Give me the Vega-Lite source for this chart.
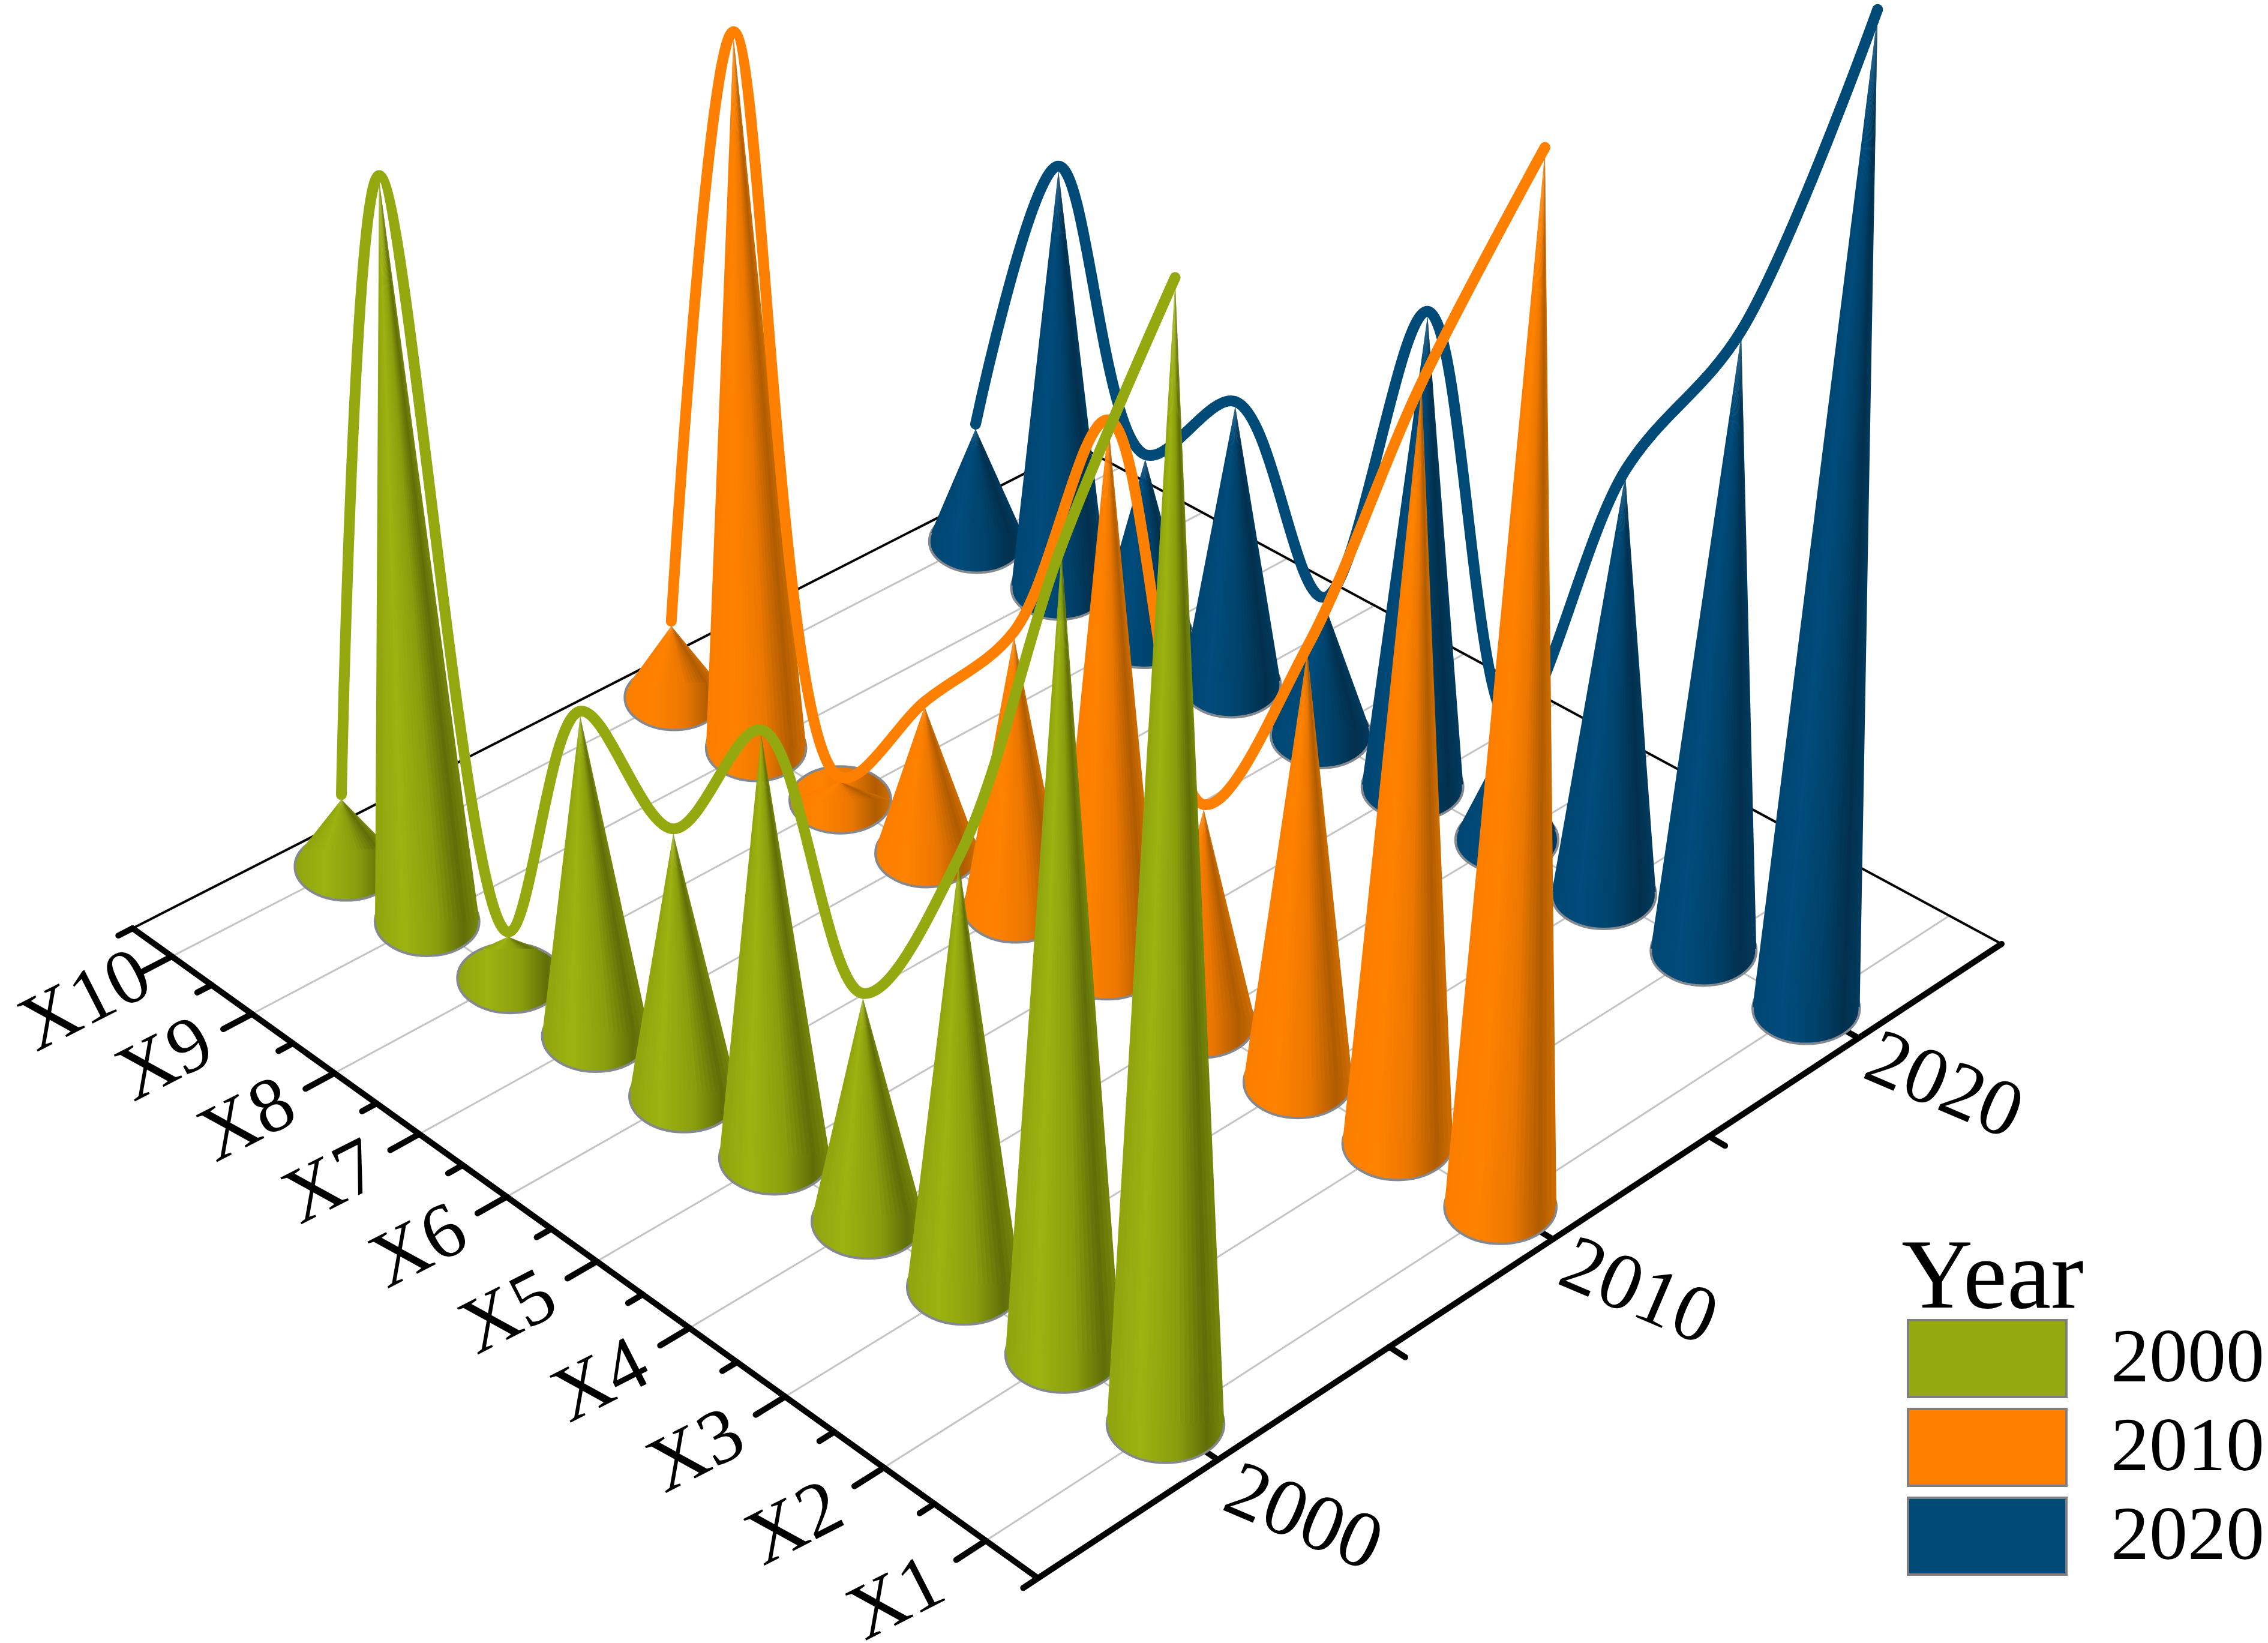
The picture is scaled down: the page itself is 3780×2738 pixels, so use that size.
{
"$schema":"https://vega.github.io/schema/vega-lite/v6.json",
"width":3780,"height":2738,"autosize":"none","padding":0,"background":"white",
"config":{"view":{"stroke":null},"axis":{"domain":false}},
"resolve":{"scale":{"color":"independent"}},
"datasets":{
"cones":[
{"year":2020,"cat":"X10","value":13.5},{"year":2020,"cat":"X9","value":48.3},{"year":2020,"cat":"X8","value":20.7},{"year":2020,"cat":"X7","value":32.1},{"year":2020,"cat":"X6","value":15.4},{"year":2020,"cat":"X5","value":52.4},{"year":2020,"cat":"X4","value":12.7},{"year":2020,"cat":"X3","value":46.1},{"year":2020,"cat":"X2","value":65.8},{"year":2020,"cat":"X1","value":101.8},
{"year":2010,"cat":"X10","value":8.4},{"year":2010,"cat":"X9","value":78.2},{"year":2010,"cat":"X8","value":2.1},{"year":2010,"cat":"X7","value":16.7},{"year":2010,"cat":"X6","value":30.3},{"year":2010,"cat":"X5","value":58.2},{"year":2010,"cat":"X4","value":23.5},{"year":2010,"cat":"X3","value":46.1},{"year":2010,"cat":"X2","value":77.8},{"year":2010,"cat":"X1","value":104.6},
{"year":2000,"cat":"X10","value":7.7},{"year":2000,"cat":"X9","value":79.2},{"year":2000,"cat":"X8","value":4.7},{"year":2000,"cat":"X7","value":35.0},{"year":2000,"cat":"X6","value":28.6},{"year":2000,"cat":"X5","value":45.0},{"year":2000,"cat":"X4","value":24.0},{"year":2000,"cat":"X3","value":44.4},{"year":2000,"cat":"X2","value":80.2},{"year":2000,"cat":"X1","value":109.4}
],
"segments":[
{"kind":"grid","i0":1,"y0":1995,"i1":1,"y1":2025},{"kind":"grid","i0":2,"y0":1995,"i1":2,"y1":2025},{"kind":"grid","i0":3,"y0":1995,"i1":3,"y1":2025},{"kind":"grid","i0":4,"y0":1995,"i1":4,"y1":2025},{"kind":"grid","i0":5,"y0":1995,"i1":5,"y1":2025},{"kind":"grid","i0":6,"y0":1995,"i1":6,"y1":2025},{"kind":"grid","i0":7,"y0":1995,"i1":7,"y1":2025},{"kind":"grid","i0":8,"y0":1995,"i1":8,"y1":2025},{"kind":"grid","i0":9,"y0":1995,"i1":9,"y1":2025},{"kind":"grid","i0":10,"y0":1995,"i1":10,"y1":2025},
{"kind":"grid","i0":0.5,"y0":2000,"i1":10.5,"y1":2000},{"kind":"grid","i0":0.5,"y0":2010,"i1":10.5,"y1":2010},{"kind":"grid","i0":0.5,"y0":2020,"i1":10.5,"y1":2020},
{"kind":"back","i0":10.5,"y0":1995,"i1":10.5,"y1":2025},{"kind":"back","i0":0.5,"y0":2025,"i1":10.5,"y1":2025},
{"kind":"axis","i0":0.5,"y0":1995,"i1":10.5,"y1":1995},{"kind":"yaxis","i0":0.5,"y0":1995,"i1":0.5,"y1":2025},
{"kind":"tick","i0":1,"y0":1995,"i1":1,"y1":1994.2},{"kind":"tick","i0":2,"y0":1995,"i1":2,"y1":1994.2},{"kind":"tick","i0":3,"y0":1995,"i1":3,"y1":1994.2},{"kind":"tick","i0":4,"y0":1995,"i1":4,"y1":1994.2},{"kind":"tick","i0":5,"y0":1995,"i1":5,"y1":1994.2},{"kind":"tick","i0":6,"y0":1995,"i1":6,"y1":1994.2},{"kind":"tick","i0":7,"y0":1995,"i1":7,"y1":1994.2},{"kind":"tick","i0":8,"y0":1995,"i1":8,"y1":1994.2},{"kind":"tick","i0":9,"y0":1995,"i1":9,"y1":1994.2},{"kind":"tick","i0":10,"y0":1995,"i1":10,"y1":1994.2},
{"kind":"tick","i0":0.5,"y0":1995,"i1":0.5,"y1":1994.6},{"kind":"tick","i0":1.5,"y0":1995,"i1":1.5,"y1":1994.6},{"kind":"tick","i0":2.5,"y0":1995,"i1":2.5,"y1":1994.6},{"kind":"tick","i0":3.5,"y0":1995,"i1":3.5,"y1":1994.6},{"kind":"tick","i0":4.5,"y0":1995,"i1":4.5,"y1":1994.6},{"kind":"tick","i0":5.5,"y0":1995,"i1":5.5,"y1":1994.6},{"kind":"tick","i0":6.5,"y0":1995,"i1":6.5,"y1":1994.6},{"kind":"tick","i0":7.5,"y0":1995,"i1":7.5,"y1":1994.6},{"kind":"tick","i0":8.5,"y0":1995,"i1":8.5,"y1":1994.6},{"kind":"tick","i0":9.5,"y0":1995,"i1":9.5,"y1":1994.6},{"kind":"tick","i0":10.5,"y0":1995,"i1":10.5,"y1":1994.6},
{"kind":"tick","i0":0.5,"y0":2005,"i1":0.35,"y1":2005},{"kind":"tick","i0":0.5,"y0":2015,"i1":0.35,"y1":2015},{"kind":"tick","i0":0.5,"y0":2000,"i1":0.65,"y1":2000},{"kind":"tick","i0":0.5,"y0":2010,"i1":0.65,"y1":2010},{"kind":"tick","i0":0.5,"y0":2020,"i1":0.65,"y1":2020}
],
"xcats":[{"label":"X1","i":1},{"label":"X2","i":2},{"label":"X3","i":3},{"label":"X4","i":4},{"label":"X5","i":5},{"label":"X6","i":6},{"label":"X7","i":7},{"label":"X8","i":8},{"label":"X9","i":9},{"label":"X10","i":10}],
"years":[{"year":2000},{"year":2010},{"year":2020}]
},
"layer":[
{"data":{"name":"segments"},"transform":[{"filter":"datum.kind=='grid'"},
{"calculate":"(datum.i0-0.5)/10","as":"a"},{"calculate":"(datum.y0-1995)/30","as":"b"},{"calculate":"(datum.i1-0.5)/10","as":"c"},{"calculate":"(datum.y1-1995)/30","as":"d"},
{"calculate":"(-1473.13*datum.a+2098.3*datum.b+1730)/(0.16232*datum.a+0.14758*datum.b+1)","as":"x0"},{"calculate":"(-831.9*datum.a-824.9*datum.b+2630)/(0.16232*datum.a+0.14758*datum.b+1)","as":"y0p"},
{"calculate":"(-1473.13*datum.c+2098.3*datum.d+1730)/(0.16232*datum.c+0.14758*datum.d+1)","as":"x1"},{"calculate":"(-831.9*datum.c-824.9*datum.d+2630)/(0.16232*datum.c+0.14758*datum.d+1)","as":"y1p"}],
"mark":{"type":"rule","stroke":"#c4c4c4","strokeWidth":3},
"encoding":{"x":{"field":"x0","type":"quantitative","scale":{"domain":[0,3780],"nice":false,"zero":false},"axis":null},"y":{"field":"y0p","type":"quantitative","scale":{"domain":[2738,0],"nice":false,"zero":false},"axis":null},"x2":{"field":"x1"},"y2":{"field":"y1p"}}},
{"data":{"name":"segments"},"transform":[{"filter":"datum.kind=='back'"},
{"calculate":"(datum.i0-0.5)/10","as":"a"},{"calculate":"(datum.y0-1995)/30","as":"b"},{"calculate":"(datum.i1-0.5)/10","as":"c"},{"calculate":"(datum.y1-1995)/30","as":"d"},
{"calculate":"(-1473.13*datum.a+2098.3*datum.b+1730)/(0.16232*datum.a+0.14758*datum.b+1)","as":"x0"},{"calculate":"(-831.9*datum.a-824.9*datum.b+2630)/(0.16232*datum.a+0.14758*datum.b+1)","as":"y0p"},
{"calculate":"(-1473.13*datum.c+2098.3*datum.d+1730)/(0.16232*datum.c+0.14758*datum.d+1)","as":"x1"},{"calculate":"(-831.9*datum.c-824.9*datum.d+2630)/(0.16232*datum.c+0.14758*datum.d+1)","as":"y1p"}],
"mark":{"type":"rule","stroke":"black","strokeWidth":4},
"encoding":{"x":{"field":"x0","type":"quantitative","scale":{"domain":[0,3780],"nice":false,"zero":false},"axis":null},"y":{"field":"y0p","type":"quantitative","scale":{"domain":[2738,0],"nice":false,"zero":false},"axis":null},"x2":{"field":"x1"},"y2":{"field":"y1p"}}},
{"data":{"name":"segments"},"transform":[{"filter":"datum.kind=='axis'||datum.kind=='yaxis'||datum.kind=='tick'"},
{"calculate":"(datum.i0-0.5)/10","as":"a"},{"calculate":"(datum.y0-1995)/30","as":"b"},{"calculate":"(datum.i1-0.5)/10","as":"c"},{"calculate":"(datum.y1-1995)/30","as":"d"},
{"calculate":"(-1473.13*datum.a+2098.3*datum.b+1730)/(0.16232*datum.a+0.14758*datum.b+1)","as":"x0"},{"calculate":"(-831.9*datum.a-824.9*datum.b+2630)/(0.16232*datum.a+0.14758*datum.b+1)","as":"y0p"},
{"calculate":"(-1473.13*datum.c+2098.3*datum.d+1730)/(0.16232*datum.c+0.14758*datum.d+1)","as":"x1"},{"calculate":"(-831.9*datum.c-824.9*datum.d+2630)/(0.16232*datum.c+0.14758*datum.d+1)","as":"y1p"}],
"mark":{"type":"rule","stroke":"black","strokeWidth":10,"strokeCap":"round"},
"encoding":{"x":{"field":"x0","type":"quantitative","scale":{"domain":[0,3780],"nice":false,"zero":false},"axis":null},"y":{"field":"y0p","type":"quantitative","scale":{"domain":[2738,0],"nice":false,"zero":false},"axis":null},"x2":{"field":"x1"},"y2":{"field":"y1p"}}},
{"data":{"name":"xcats"},"transform":[{"calculate":"(datum.i-0.5)/10","as":"a"},{"calculate":"-0.08","as":"b"},
{"calculate":"(-1473.13*datum.a+2098.3*datum.b+1730)/(0.16232*datum.a+0.14758*datum.b+1)","as":"px"},{"calculate":"(-831.9*datum.a-824.9*datum.b+2630)/(0.16232*datum.a+0.14758*datum.b+1)","as":"py"}],
"mark":{"type":"text","font":"Liberation Serif","fontSize":130,"angle":333,"align":"center","baseline":"middle","color":"black"},
"encoding":{"x":{"field":"px","type":"quantitative","scale":{"domain":[0,3780],"nice":false,"zero":false},"axis":null},"y":{"field":"py","type":"quantitative","scale":{"domain":[2738,0],"nice":false,"zero":false},"axis":null},"text":{"field":"label","type":"nominal"}}},
{"data":{"name":"years"},"transform":[{"calculate":"-0.08","as":"a"},{"calculate":"(datum.year-1995)/30","as":"b"},
{"calculate":"(-1473.13*datum.a+2098.3*datum.b+1730)/(0.16232*datum.a+0.14758*datum.b+1)","as":"px"},{"calculate":"(-831.9*datum.a-824.9*datum.b+2630)/(0.16232*datum.a+0.14758*datum.b+1)","as":"py"}],
"mark":{"type":"text","font":"Liberation Serif","fontSize":134,"angle":23,"align":"center","baseline":"middle","color":"black"},
"encoding":{"x":{"field":"px","type":"quantitative","scale":{"domain":[0,3780],"nice":false,"zero":false},"axis":null},"y":{"field":"py","type":"quantitative","scale":{"domain":[2738,0],"nice":false,"zero":false},"axis":null},"text":{"field":"year","type":"nominal"}}},

{"data":{"name":"cones"},"transform":[{"filter":"datum.year==2020"},{"calculate":"(toNumber(substring(datum.cat,1))-0.5)/10","as":"u"},{"calculate":"(datum.year-1995)/30","as":"v"},{"calculate":"0.16232*datum.u+0.14758*datum.v+1","as":"w"},{"calculate":"(-1473.13*datum.u+2098.3*datum.v+1730)/datum.w","as":"bx"},{"calculate":"(-831.9*datum.u-824.9*datum.v+2630)/datum.w","as":"by"},{"calculate":"101/datum.w","as":"r"},{"calculate":"4*datum.r*datum.r","as":"s"}],
"mark":{"type":"point","filled":true,"opacity":1,"shape":"M-1,0 A1,0.66 0 1,0 1,0 A1,0.66 0 1,0 -1,0 Z","stroke":"#84888f","strokeWidth":4,"fill":{"x1":0,"y1":0,"x2":1,"y2":0,"gradient":"linear","stops":[{"offset":0,"color":"#004672"},{"offset":0.28,"color":"#004c7c"},{"offset":0.6,"color":"#00426b"},{"offset":0.85,"color":"#02304e"},{"offset":1,"color":"#033a5e"}]}},
"encoding":{"x":{"field":"bx","type":"quantitative","scale":{"domain":[0,3780],"nice":false,"zero":false},"axis":null},"y":{"field":"by","type":"quantitative","scale":{"domain":[2738,0],"nice":false,"zero":false},"axis":null},"size":{"field":"s","type":"quantitative","scale":null}}},
{"data":{"name":"cones"},"transform":[{"filter":"datum.year==2020"},{"calculate":"(toNumber(substring(datum.cat,1))-0.5)/10","as":"u"},{"calculate":"(datum.year-1995)/30","as":"v"},{"calculate":"0.16232*datum.u+0.14758*datum.v+1","as":"w"},{"calculate":"(-1473.13*datum.u+2098.3*datum.v+1730)/datum.w","as":"bx"},{"calculate":"(-831.9*datum.u-824.9*datum.v+2630)/datum.w","as":"by"},{"calculate":"(datum.value/1000)/(datum.w-datum.value/1000)","as":"t"},{"calculate":"datum.bx+(datum.bx-1807)*datum.t","as":"ax"},{"calculate":"datum.by+(datum.by-18433)*datum.t","as":"ay"},{"calculate":"101/datum.w","as":"r"},{"calculate":"datum.by-datum.ay","as":"h"},{"calculate":"0.66*datum.r","as":"e"},{"calculate":"datum.h>1.05*datum.e?sqrt(1-(datum.e/datum.h)*(datum.e/datum.h)):1","as":"q"},{"calculate":"datum.h>1.05*datum.e?datum.by-datum.e*datum.e/datum.h:datum.by","as":"yb"},{"calculate":"[0,1,2,3,4,5,6,7,8,9,10,11,12,13,14,15,16,17,18,19,20,21,22,23]","as":"k"},{"flatten":["k"]},{"calculate":"(datum.k+0.5)/24","as":"f"},{"fold":["yb","ay"],"as":["end","py"]},{"calculate":"datum.end=='yb'?datum.bx+datum.r*datum.q*(2*datum.k/24-1):datum.ax","as":"xl"},{"calculate":"datum.end=='yb'?datum.bx+datum.r*datum.q*(2*min(1,(datum.k+1.6)/24)-1):datum.ax","as":"xr"}],
"mark":{"type":"area","orient":"horizontal"},
"encoding":{"x":{"field":"xl","type":"quantitative","stack":null,"scale":{"domain":[0,3780],"nice":false,"zero":false},"axis":null},"x2":{"field":"xr"},"y":{"field":"py","type":"quantitative","scale":{"domain":[2738,0],"nice":false,"zero":false},"axis":null},"detail":[{"field":"cat","type":"nominal"},{"field":"k","type":"nominal"}],"color":{"field":"f","type":"quantitative","legend":null,"scale":{"domain":[0,0.28,0.6,0.85,1],"range":["#004672","#004c7c","#00426b","#02304e","#033a5e"]}}}},
{"data":{"name":"cones"},"transform":[{"filter":"datum.year==2020"},{"calculate":"(toNumber(substring(datum.cat,1))-0.5)/10","as":"u"},{"calculate":"(datum.year-1995)/30","as":"v"},{"calculate":"0.16232*datum.u+0.14758*datum.v+1","as":"w"},{"calculate":"(-1473.13*datum.u+2098.3*datum.v+1730)/datum.w","as":"bx"},{"calculate":"(-831.9*datum.u-824.9*datum.v+2630)/datum.w","as":"by"},{"calculate":"(datum.value/1000)/(datum.w-datum.value/1000)","as":"t"},{"calculate":"datum.bx+(datum.bx-1807)*datum.t","as":"ax"},{"calculate":"datum.by+(datum.by-18433)*datum.t","as":"ay"}],
"mark":{"type":"line","interpolate":"catmull-rom","tension":0.5,"stroke":"#004a77","strokeWidth":18,"strokeCap":"round","yOffset":-8},
"encoding":{"x":{"field":"ax","type":"quantitative","scale":{"domain":[0,3780],"nice":false,"zero":false},"axis":null},"y":{"field":"ay","type":"quantitative","scale":{"domain":[2738,0],"nice":false,"zero":false},"axis":null}}},

{"data":{"name":"cones"},"transform":[{"filter":"datum.year==2010"},{"calculate":"(toNumber(substring(datum.cat,1))-0.5)/10","as":"u"},{"calculate":"(datum.year-1995)/30","as":"v"},{"calculate":"0.16232*datum.u+0.14758*datum.v+1","as":"w"},{"calculate":"(-1473.13*datum.u+2098.3*datum.v+1730)/datum.w","as":"bx"},{"calculate":"(-831.9*datum.u-824.9*datum.v+2630)/datum.w","as":"by"},{"calculate":"101/datum.w","as":"r"},{"calculate":"4*datum.r*datum.r","as":"s"}],
"mark":{"type":"point","filled":true,"opacity":1,"shape":"M-1,0 A1,0.66 0 1,0 1,0 A1,0.66 0 1,0 -1,0 Z","stroke":"#84888f","strokeWidth":4,"fill":{"x1":0,"y1":0,"x2":1,"y2":0,"gradient":"linear","stops":[{"offset":0,"color":"#fb7e00"},{"offset":0.28,"color":"#ff8300"},{"offset":0.6,"color":"#ec7700"},{"offset":0.85,"color":"#b05c00"},{"offset":1,"color":"#cf6e00"}]}},
"encoding":{"x":{"field":"bx","type":"quantitative","scale":{"domain":[0,3780],"nice":false,"zero":false},"axis":null},"y":{"field":"by","type":"quantitative","scale":{"domain":[2738,0],"nice":false,"zero":false},"axis":null},"size":{"field":"s","type":"quantitative","scale":null}}},
{"data":{"name":"cones"},"transform":[{"filter":"datum.year==2010"},{"calculate":"(toNumber(substring(datum.cat,1))-0.5)/10","as":"u"},{"calculate":"(datum.year-1995)/30","as":"v"},{"calculate":"0.16232*datum.u+0.14758*datum.v+1","as":"w"},{"calculate":"(-1473.13*datum.u+2098.3*datum.v+1730)/datum.w","as":"bx"},{"calculate":"(-831.9*datum.u-824.9*datum.v+2630)/datum.w","as":"by"},{"calculate":"(datum.value/1000)/(datum.w-datum.value/1000)","as":"t"},{"calculate":"datum.bx+(datum.bx-1807)*datum.t","as":"ax"},{"calculate":"datum.by+(datum.by-18433)*datum.t","as":"ay"},{"calculate":"101/datum.w","as":"r"},{"calculate":"datum.by-datum.ay","as":"h"},{"calculate":"0.66*datum.r","as":"e"},{"calculate":"datum.h>1.05*datum.e?sqrt(1-(datum.e/datum.h)*(datum.e/datum.h)):1","as":"q"},{"calculate":"datum.h>1.05*datum.e?datum.by-datum.e*datum.e/datum.h:datum.by","as":"yb"},{"calculate":"[0,1,2,3,4,5,6,7,8,9,10,11,12,13,14,15,16,17,18,19,20,21,22,23]","as":"k"},{"flatten":["k"]},{"calculate":"(datum.k+0.5)/24","as":"f"},{"fold":["yb","ay"],"as":["end","py"]},{"calculate":"datum.end=='yb'?datum.bx+datum.r*datum.q*(2*datum.k/24-1):datum.ax","as":"xl"},{"calculate":"datum.end=='yb'?datum.bx+datum.r*datum.q*(2*min(1,(datum.k+1.6)/24)-1):datum.ax","as":"xr"}],
"mark":{"type":"area","orient":"horizontal"},
"encoding":{"x":{"field":"xl","type":"quantitative","stack":null,"scale":{"domain":[0,3780],"nice":false,"zero":false},"axis":null},"x2":{"field":"xr"},"y":{"field":"py","type":"quantitative","scale":{"domain":[2738,0],"nice":false,"zero":false},"axis":null},"detail":[{"field":"cat","type":"nominal"},{"field":"k","type":"nominal"}],"color":{"field":"f","type":"quantitative","legend":null,"scale":{"domain":[0,0.28,0.6,0.85,1],"range":["#fb7e00","#ff8300","#ec7700","#b05c00","#cf6e00"]}}}},
{"data":{"name":"cones"},"transform":[{"filter":"datum.year==2010"},{"calculate":"(toNumber(substring(datum.cat,1))-0.5)/10","as":"u"},{"calculate":"(datum.year-1995)/30","as":"v"},{"calculate":"0.16232*datum.u+0.14758*datum.v+1","as":"w"},{"calculate":"(-1473.13*datum.u+2098.3*datum.v+1730)/datum.w","as":"bx"},{"calculate":"(-831.9*datum.u-824.9*datum.v+2630)/datum.w","as":"by"},{"calculate":"(datum.value/1000)/(datum.w-datum.value/1000)","as":"t"},{"calculate":"datum.bx+(datum.bx-1807)*datum.t","as":"ax"},{"calculate":"datum.by+(datum.by-18433)*datum.t","as":"ay"}],
"mark":{"type":"line","interpolate":"catmull-rom","tension":0.5,"stroke":"#ff8000","strokeWidth":18,"strokeCap":"round","yOffset":-8},
"encoding":{"x":{"field":"ax","type":"quantitative","scale":{"domain":[0,3780],"nice":false,"zero":false},"axis":null},"y":{"field":"ay","type":"quantitative","scale":{"domain":[2738,0],"nice":false,"zero":false},"axis":null}}},

{"data":{"name":"cones"},"transform":[{"filter":"datum.year==2000"},{"calculate":"(toNumber(substring(datum.cat,1))-0.5)/10","as":"u"},{"calculate":"(datum.year-1995)/30","as":"v"},{"calculate":"0.16232*datum.u+0.14758*datum.v+1","as":"w"},{"calculate":"(-1473.13*datum.u+2098.3*datum.v+1730)/datum.w","as":"bx"},{"calculate":"(-831.9*datum.u-824.9*datum.v+2630)/datum.w","as":"by"},{"calculate":"101/datum.w","as":"r"},{"calculate":"4*datum.r*datum.r","as":"s"}],
"mark":{"type":"point","filled":true,"opacity":1,"shape":"M-1,0 A1,0.66 0 1,0 1,0 A1,0.66 0 1,0 -1,0 Z","stroke":"#84888f","strokeWidth":4,"fill":{"x1":0,"y1":0,"x2":1,"y2":0,"gradient":"linear","stops":[{"offset":0,"color":"#8fa40e"},{"offset":0.28,"color":"#9cb311"},{"offset":0.6,"color":"#8a9e0d"},{"offset":0.85,"color":"#606e08"},{"offset":1,"color":"#76880c"}]}},
"encoding":{"x":{"field":"bx","type":"quantitative","scale":{"domain":[0,3780],"nice":false,"zero":false},"axis":null},"y":{"field":"by","type":"quantitative","scale":{"domain":[2738,0],"nice":false,"zero":false},"axis":null},"size":{"field":"s","type":"quantitative","scale":null}}},
{"data":{"name":"cones"},"transform":[{"filter":"datum.year==2000"},{"calculate":"(toNumber(substring(datum.cat,1))-0.5)/10","as":"u"},{"calculate":"(datum.year-1995)/30","as":"v"},{"calculate":"0.16232*datum.u+0.14758*datum.v+1","as":"w"},{"calculate":"(-1473.13*datum.u+2098.3*datum.v+1730)/datum.w","as":"bx"},{"calculate":"(-831.9*datum.u-824.9*datum.v+2630)/datum.w","as":"by"},{"calculate":"(datum.value/1000)/(datum.w-datum.value/1000)","as":"t"},{"calculate":"datum.bx+(datum.bx-1807)*datum.t","as":"ax"},{"calculate":"datum.by+(datum.by-18433)*datum.t","as":"ay"},{"calculate":"101/datum.w","as":"r"},{"calculate":"datum.by-datum.ay","as":"h"},{"calculate":"0.66*datum.r","as":"e"},{"calculate":"datum.h>1.05*datum.e?sqrt(1-(datum.e/datum.h)*(datum.e/datum.h)):1","as":"q"},{"calculate":"datum.h>1.05*datum.e?datum.by-datum.e*datum.e/datum.h:datum.by","as":"yb"},{"calculate":"[0,1,2,3,4,5,6,7,8,9,10,11,12,13,14,15,16,17,18,19,20,21,22,23]","as":"k"},{"flatten":["k"]},{"calculate":"(datum.k+0.5)/24","as":"f"},{"fold":["yb","ay"],"as":["end","py"]},{"calculate":"datum.end=='yb'?datum.bx+datum.r*datum.q*(2*datum.k/24-1):datum.ax","as":"xl"},{"calculate":"datum.end=='yb'?datum.bx+datum.r*datum.q*(2*min(1,(datum.k+1.6)/24)-1):datum.ax","as":"xr"}],
"mark":{"type":"area","orient":"horizontal"},
"encoding":{"x":{"field":"xl","type":"quantitative","stack":null,"scale":{"domain":[0,3780],"nice":false,"zero":false},"axis":null},"x2":{"field":"xr"},"y":{"field":"py","type":"quantitative","scale":{"domain":[2738,0],"nice":false,"zero":false},"axis":null},"detail":[{"field":"cat","type":"nominal"},{"field":"k","type":"nominal"}],"color":{"field":"f","type":"quantitative","legend":null,"scale":{"domain":[0,0.28,0.6,0.85,1],"range":["#8fa40e","#9cb311","#8a9e0d","#606e08","#76880c"]}}}},
{"data":{"name":"cones"},"transform":[{"filter":"datum.year==2000"},{"calculate":"(toNumber(substring(datum.cat,1))-0.5)/10","as":"u"},{"calculate":"(datum.year-1995)/30","as":"v"},{"calculate":"0.16232*datum.u+0.14758*datum.v+1","as":"w"},{"calculate":"(-1473.13*datum.u+2098.3*datum.v+1730)/datum.w","as":"bx"},{"calculate":"(-831.9*datum.u-824.9*datum.v+2630)/datum.w","as":"by"},{"calculate":"(datum.value/1000)/(datum.w-datum.value/1000)","as":"t"},{"calculate":"datum.bx+(datum.bx-1807)*datum.t","as":"ax"},{"calculate":"datum.by+(datum.by-18433)*datum.t","as":"ay"}],
"mark":{"type":"line","interpolate":"catmull-rom","tension":0.5,"stroke":"#94a90f","strokeWidth":18,"strokeCap":"round","yOffset":-8},
"encoding":{"x":{"field":"ax","type":"quantitative","scale":{"domain":[0,3780],"nice":false,"zero":false},"axis":null},"y":{"field":"ay","type":"quantitative","scale":{"domain":[2738,0],"nice":false,"zero":false},"axis":null}}},

{"data":{"name":"years"},
"mark":{"type":"point","filled":true,"size":0,"opacity":0},
"encoding":{"x":{"datum":0,"type":"quantitative","scale":{"domain":[0,3780],"nice":false,"zero":false},"axis":null},"y":{"datum":0,"type":"quantitative","scale":{"domain":[2738,0],"nice":false,"zero":false},"axis":null},
"fill":{"field":"year","type":"nominal","title":"Year","scale":{"domain":["2000","2010","2020"],"range":["#94a90f","#ff8000","#004a77"]},
"legend":{"orient":"none","legendX":3169,"legendY":2049,"symbolType":"M-2.64,-1.28 L2.64,-1.28 L2.64,1.28 L-2.64,1.28 Z","symbolSize":10000,"symbolOpacity":1,"symbolStrokeColor":"#7f7f7f","symbolStrokeWidth":4,"symbolOffset":79,"rowPadding":4,"labelOffset":142,"labelFont":"Liberation Serif","labelFontSize":128,"labelColor":"black","labelLimit":500,"titleFont":"Liberation Serif","titleFontSize":165,"titleFontWeight":"normal","titleColor":"black","titlePadding":-14,"titleLimit":600}}}}
]
}
